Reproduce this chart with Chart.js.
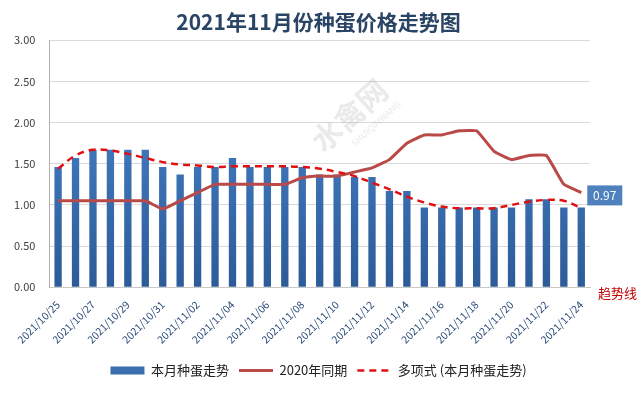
<!DOCTYPE html>
<html>
<head>
<meta charset="utf-8">
<script src="https://cdn.jsdelivr.net/npm/chart.js@4"></script>
<style>
  body { margin: 0; background: #fff; }
  #wrap { width: 643px; height: 395px; position: relative; }
</style>
</head>
<body>
<div id="wrap"><canvas id="eggChart"></canvas></div>
<script>
// 日期
const dates = [
  '2021/10/25', '2021/10/26', '2021/10/27', '2021/10/28', '2021/10/29', '2021/10/30', '2021/10/31',
  '2021/11/01', '2021/11/02', '2021/11/03', '2021/11/04', '2021/11/05', '2021/11/06', '2021/11/07',
  '2021/11/08', '2021/11/09', '2021/11/10', '2021/11/11', '2021/11/12', '2021/11/13', '2021/11/14',
  '2021/11/15', '2021/11/16', '2021/11/17', '2021/11/18', '2021/11/19', '2021/11/20', '2021/11/21',
  '2021/11/22', '2021/11/23', '2021/11/24'
];

// 本月种蛋走势
const thisMonth = [
  1.46, 1.57, 1.67, 1.67, 1.67, 1.67, 1.46, 1.37, 1.46, 1.46, 1.57, 1.46, 1.46, 1.46, 1.46, 1.37,
  1.37, 1.34, 1.34, 1.17, 1.17, 0.97, 0.97, 0.97, 0.97, 0.97, 0.97, 1.07, 1.07, 0.97, 0.97
];

// 2020年同期
const lastYear = [
  1.05, 1.05, 1.05, 1.05, 1.05, 1.05, 0.95, 1.05, 1.15, 1.25, 1.25, 1.25, 1.25, 1.25, 1.33, 1.35,
  1.35, 1.40, 1.45, 1.55, 1.75, 1.85, 1.85, 1.90, 1.90, 1.65, 1.55, 1.60, 1.60, 1.25, 1.15
];

// 多项式 (本月种蛋走势) - 读图
const trend = [
  1.44, 1.60, 1.67, 1.66, 1.62, 1.57, 1.52, 1.49, 1.48, 1.46, 1.47, 1.47, 1.47, 1.47, 1.46, 1.44,
  1.40, 1.35, 1.27, 1.19, 1.10, 1.03, 0.98, 0.96, 0.96, 0.96, 1.00, 1.04, 1.06, 1.05, 0.96
];

const yTicks = [0, 0.5, 1, 1.5, 2, 2.5, 3];

const FONT = "'Noto Sans CJK SC', 'Noto Sans', sans-serif";

// 柱子渐变
const barGradient = (context) => {
  const chart = context.chart;
  const area = chart.chartArea;
  if (!area) return '#3b72b9';
  const g = chart.ctx.createLinearGradient(0, area.top, 0, area.bottom);
  g.addColorStop(0, '#4d8ad4');
  g.addColorStop(1, '#2c5b98');
  return g;
};

// 最后一根柱子的标签 + 趋势线文字 + 水印
const extras = {
  id: 'extras',
  afterDatasetsDraw(chart) {
    const ctx = chart.ctx;
    const area = chart.chartArea;
    const meta = chart.getDatasetMeta(2);
    const last = meta.data[meta.data.length - 1];
    const val = thisMonth[thisMonth.length - 1];

    // 0.97 标签
    ctx.save();
    const bx = last.x + 6, by = last.y - 22;
    ctx.fillStyle = '#4f81bd';
    ctx.fillRect(bx, by, 35, 20);
    ctx.fillStyle = '#fff';
    ctx.font = '12px ' + FONT;
    ctx.textAlign = 'center';
    ctx.textBaseline = 'middle';
    ctx.fillText(val.toFixed(2), bx + 17.5, by + 10.5);

    // 趋势线
    ctx.fillStyle = '#c00000';
    ctx.font = '13px ' + FONT;
    ctx.textAlign = 'left';
    ctx.textBaseline = 'middle';
    ctx.fillText('趋势线', area.right + 8, area.bottom + 6);

    // 水印
    ctx.translate(area.left + area.width * 0.555, area.top + 75);
    ctx.rotate(-42 * Math.PI / 180);
    ctx.fillStyle = 'rgba(170,170,170,0.25)';
    ctx.font = 'bold 30px ' + FONT;
    ctx.textAlign = 'center';
    ctx.fillText('水禽网', 0, 0);
    ctx.font = '9px ' + FONT;
    ctx.fillText('SHUIQINWANG', 14, 24);
    ctx.restore();
  }
};

new Chart(document.getElementById('eggChart').getContext('2d'), {
  data: {
    labels: dates,
    datasets: [
      {
        type: 'line',
        label: '2020年同期',
        data: lastYear,
        borderColor: '#b94a48',
        backgroundColor: '#b94a48',
        borderWidth: 3,
        pointRadius: 0,
        tension: 0.1,
        order: 1,
      },
      {
        type: 'line',
        label: '多项式 (本月种蛋走势)',
        data: trend,
        borderColor: '#e01010',
        backgroundColor: '#e01010',
        borderWidth: 2.5,
        borderDash: [7, 5],
        pointRadius: 0,
        tension: 0.4,
        order: 0,
      },
      {
        type: 'bar',
        label: '本月种蛋走势',
        data: thisMonth,
        backgroundColor: barGradient,
        barPercentage: 0.42,
        categoryPercentage: 1,
        order: 2,
      },
    ],
  },
  options: {
    responsive: true,
    maintainAspectRatio: false,
    animation: false,
    layout: { padding: { top: 6, left: 0, right: 6, bottom: 8 } },
    plugins: {
      title: {
        display: true,
        text: '2021年11月份种蛋价格走势图',
        color: '#2a4466',
        font: { family: FONT, size: 21, weight: 'bold' },
        padding: { top: 3, bottom: 6 },
      },
      legend: {
        position: 'bottom',
        labels: {
          usePointStyle: true,
          pointStyleWidth: 34,
          boxHeight: 8,
          padding: 10,
          color: '#222',
          font: { family: FONT, size: 13 },
          generateLabels: (chart) => {
            const order = [2, 0, 1];
            return order.map((i) => {
              const ds = chart.data.datasets[i];
              const isBar = ds.type === 'bar';
              return {
                text: ds.label,
                datasetIndex: i,
                fillStyle: isBar ? '#3b6fb0' : ds.borderColor,
                strokeStyle: isBar ? '#3b6fb0' : ds.borderColor,
                lineWidth: isBar ? 0 : ds.borderWidth,
                lineDash: ds.borderDash || [],
                pointStyle: isBar ? 'rect' : 'line',
                fontColor: '#222',
                hidden: false,
              };
            });
          },
        },
      },
      tooltip: { enabled: false },
    },
    scales: {
      x: {
        grid: { display: false },
        border: { color: '#c8c8c8' },
        afterFit: (s) => { s.height += 5; },
        ticks: {
          autoSkip: false,
          maxRotation: 45,
          minRotation: 45,
          color: '#2a4a78',
          font: { family: FONT, size: 10.5 },
          callback: (v, i) => (i % 2 === 0 ? dates[i] : ''),
        },
      },
      y: {
        min: 0,
        max: 3,
        afterBuildTicks: (axis) => { axis.ticks = yTicks.map((v) => ({ value: v })); },
        grid: { color: '#d9d9d9', drawTicks: false },
        border: { color: '#b0b0b0' },
        ticks: {
          padding: 14,
          color: '#404040',
          font: { family: FONT, size: 11 },
          callback: (v) => Number(v).toFixed(2),
        },
      },
      // 右边留空给标签
      yRight: {
        position: 'right',
        min: 0,
        max: 3,
        grid: { display: false },
        border: { display: false },
        ticks: { display: false },
        afterFit: (s) => { s.width = 47; },
      },
    },
  },
  plugins: [extras],
});
</script>
</body>
</html>
